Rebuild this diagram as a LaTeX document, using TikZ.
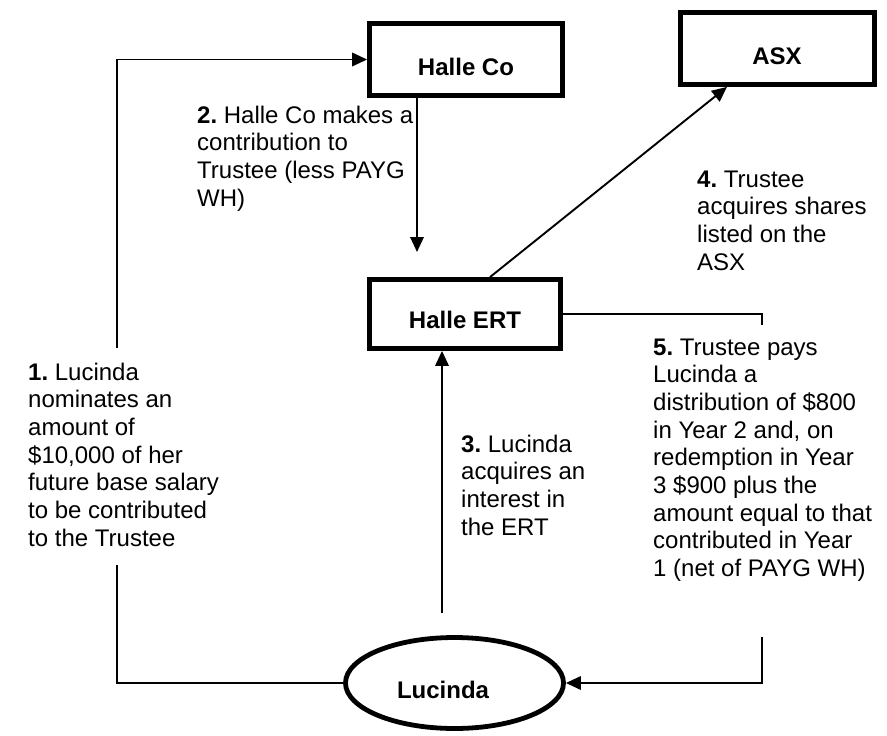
\documentclass[tikz,border=0pt]{standalone}
\usepackage{fontspec}
\setmainfont{Liberation Sans}
\usetikzlibrary{arrows.meta,shapes.geometric,calc}
\newcommand{\lbltext}[1]{\parbox[t]{235pt}{\raggedright\frenchspacing #1}}
\begin{document}
\begin{tikzpicture}[x=1pt,y=-1pt,
  boxnode/.style={draw, line width=4.8pt, inner sep=0pt},
  ovalnode/.style={draw, ellipse, line width=4.8pt, inner sep=0pt},
  conn/.style={line width=1.9pt},
  arr/.style={conn, -{Triangle[length=15pt,width=13.5pt]}},
  lbl/.style={anchor=base west, inner sep=0pt, font=\fontsize{24}{27.7}\selectfont},
  ttl/.style={anchor=base, inner sep=0pt, font=\fontsize{24}{27.7}\selectfont\bfseries}]
\useasboundingbox (0,0) rectangle (887,736);
\fill[white] (0,0) rectangle (887,736);

% boxes
\node[boxnode, minimum width=193pt, minimum height=72pt] (hc) at (466,59.5) {};
\node[ttl] (hct) at (466,75) {Halle Co};
\node[boxnode, minimum width=194pt, minimum height=72pt] (asx) at (777.5,48.5) {};
\node[ttl] (asxt) at (777,64) {ASX};
\node[boxnode, minimum width=191pt, minimum height=69pt] (hert) at (465,314) {};
\node[ttl] (hertt) at (465,328) {Halle ERT};
\node[ovalnode, minimum width=218pt, minimum height=91pt] (luc) at (454.5,683) {};
\node[ttl] (luct) at (443,698) {Lucinda};

% connector 1
\coordinate (c1a) at (117,565);
\coordinate (c1b) at (117,348);
\draw[conn] (luc.west) -| (c1a);
\draw[arr] (c1b) |- (hc.west);

% connector 2
\coordinate (a2e) at (417,252);
\draw[arr] (hc.south -| a2e) -- (a2e);

% connector 3
\coordinate (a3s) at (442,613);
\draw[arr] (a3s) -- (a3s |- hert.south);

% connector 4
\coordinate (a4s) at (490,0);
\coordinate (a4e) at (727,0);
\draw[arr] (hert.north -| a4s) -- (asx.south -| a4e);

% connector 5
\coordinate (c5a) at (762,325);
\coordinate (c5b) at (762,637);
\draw[conn] (hert.east) -| (c5a);
\draw[arr] (c5b) |- (luc.east);

% labels
\node[lbl] (t1) at (28,380) {\lbltext{\textbf{1.} Lucinda\\nominates an\\amount of\\\$10,000 of her\\future base salary\\to be contributed\\to the Trustee}};
\node[lbl] (t2) at (197,123) {\lbltext{\textbf{2.} Halle Co makes a\\contribution to\\Trustee (less PAYG\\WH)}};
\node[lbl] (t3) at (461,452) {\lbltext{\textbf{3.} Lucinda\\acquires an\\interest in\\the ERT}};
\node[lbl] (t4) at (697,187) {\lbltext{\textbf{4.} Trustee\\acquires shares\\listed on the\\ASX}};
\node[lbl] (t5) at (653,355) {\lbltext{\textbf{5.} Trustee pays\\Lucinda a\\distribution of \$800\\in Year 2 and, on\\redemption in Year\\3 \$900 plus the\\amount equal to that\\contributed in Year\\1 (net of PAYG WH)}};
\end{tikzpicture}
\end{document}
